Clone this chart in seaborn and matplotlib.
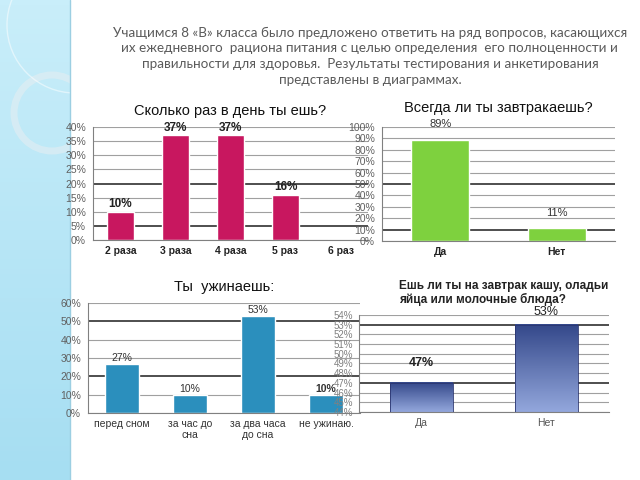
import numpy as np
import matplotlib
matplotlib.use("Agg")
import matplotlib.pyplot as plt
from matplotlib.patches import Circle
import seaborn as sns

sns.set_theme(style="white")
plt.rcParams["font.family"] = ["Liberation Sans", "DejaVu Sans"]

# data
meals_cats = ["2 раза", "3 раза", "4 раза", "5 раз", "6 раз"]
meals_vals = [10, 37, 37, 16, 0]
meals_labels = ["10%", "37%", "37%", "16%", ""]

breakfast_cats = ["Да", "Нет"]
breakfast_vals = [89, 11]

dinner_cats = ["перед сном", "за час до\nсна", "за два часа\nдо сна", "не ужинаю."]
dinner_vals = [27, 10, 53, 10]

porridge_cats = ["Да", "Нет"]
porridge_vals = [47, 53]

intro = ("Учащимся 8 «В» класса было предложено ответить на ряд вопросов, касающихся\n"
         "их ежедневного  рациона питания с целью определения  его полноценности и\n"
         "правильности для здоровья.  Результаты тестирования и анкетирования\n"
         "представлены в диаграммах.")

fig = plt.figure(figsize=(6.4, 4.8), dpi=100)
fig.patch.set_facecolor("white")

# background strip on the left
bg = fig.add_axes([0, 0, 1, 1], zorder=-10)
bg.set_xlim(0, 640)
bg.set_ylim(480, 0)
bg.axis("off")
grad = np.linspace(0, 1, 100).reshape(-1, 1)
strip_cmap = matplotlib.colors.LinearSegmentedColormap.from_list("s", ["#c9eefa", "#a6def2"])
bg.imshow(grad, cmap=strip_cmap, extent=(0, 70, 480, 0), aspect="auto")
bg.axvline(70, color="#9ccfe2", lw=1)
clip = bg.transData.transform_bbox(matplotlib.transforms.Bbox([[0, 0], [70, 480]]))
ring = Circle((52, 113), 38, fill=False, ec="#e4eef2", lw=5, alpha=0.6)
bg.add_patch(ring)
ring.set_clip_box(clip)
arc = Circle((75, 25), 68, fill=False, ec="white", lw=1, alpha=0.5)
bg.add_patch(arc)
arc.set_clip_box(clip)

fig.text(0.578, 0.945, intro, ha="center", va="top", fontsize=9.7, color="#5a5a5a",
         family=["Lato", "DejaVu Sans"], linespacing=1.38)


def style_axes(ax, ticks, dark=()):
    ax.set_yticks(ticks)
    ax.set_yticklabels([f"{t}%" for t in ticks])
    for t in ticks:
        ax.axhline(t, color="#404040" if t in dark else "#a0a0a0",
                   lw=1.3 if t in dark else 0.8, zorder=0)
    for s in ["top", "right"]:
        ax.spines[s].set_visible(False)
    ax.spines["left"].set_color("#808080")
    ax.spines["bottom"].set_color("#808080")
    ax.spines["left"].set_linewidth(0.8)
    ax.spines["bottom"].set_linewidth(0.8)
    ax.tick_params(axis="y", length=3, color="#808080", labelsize=7.5, labelcolor="#606060", pad=2)
    ax.tick_params(axis="x", length=0, pad=4)
    ax.set_xlabel("")
    ax.set_ylabel("")
    ax.set_facecolor("none")


# chart 1
ax1 = fig.add_axes([93 / 640, 1 - 240 / 480, 275 / 640, 113 / 480])
sns.barplot(x=meals_cats, y=meals_vals, color="#c8175f", width=0.49, saturation=1, ax=ax1, zorder=2)
ax1.set_ylim(0, 40)
style_axes(ax1, list(range(0, 45, 5)), dark=(5, 20))
ax1.tick_params(axis="x", labelsize=7.5, labelcolor="#222222")
for lab in ax1.get_xticklabels():
    lab.set_fontweight("bold")
for p, txt in zip(ax1.patches, meals_labels):
    ax1.text(p.get_x() + p.get_width() / 2, p.get_height() + 0.6, txt, ha="center", va="bottom",
             fontsize=8.5, fontweight="bold", color="#222222")
ax1.set_title("Сколько раз в день ты ешь?", fontsize=10.5, color="#111111", pad=9)

# chart 2
ax2 = fig.add_axes([382 / 640, 1 - 241 / 480, 233 / 640, 114 / 480])
sns.barplot(x=breakfast_cats, y=breakfast_vals, color="#7ed13e", width=0.5, saturation=1, ax=ax2, zorder=2)
ax2.set_ylim(0, 100)
style_axes(ax2, list(range(0, 110, 10)), dark=(10, 50))
ax2.tick_params(axis="x", labelsize=7.5, labelcolor="#222222")
for lab in ax2.get_xticklabels():
    lab.set_fontweight("bold")
for p, v in zip(ax2.patches, breakfast_vals):
    ax2.text(p.get_x() + p.get_width() / 2, p.get_height() + 9, f"{v}%", ha="center", va="bottom",
             fontsize=8, color="#333333", clip_on=False)
ax2.set_title("Всегда ли ты завтракаешь?", fontsize=10.5, color="#111111", pad=11)

# chart 3
ax3 = fig.add_axes([88 / 640, 1 - 413 / 480, 272 / 640, 110 / 480])
sns.barplot(x=dinner_cats, y=dinner_vals, color="#2b8fbd", width=0.49, saturation=1, ax=ax3, zorder=2)
ax3.set_ylim(0, 60)
style_axes(ax3, list(range(0, 70, 10)), dark=(20, 50))
ax3.tick_params(axis="x", labelsize=7.5, labelcolor="#333333")
for i, (p, v) in enumerate(zip(ax3.patches, dinner_vals)):
    ax3.text(p.get_x() + p.get_width() / 2, p.get_height() + 0.4, f"{v}%", ha="center", va="bottom",
             fontsize=7.5, color="#333333", fontweight="bold" if i == 3 else "normal")
ax3.set_title("Ты  ужинаешь:", fontsize=10.5, color="#111111", pad=9)

# chart 4
ax4 = fig.add_axes([359 / 640, 1 - 412 / 480, 250 / 640, 97 / 480], zorder=3)
sns.barplot(x=porridge_cats, y=porridge_vals, color="#5a6eb0", width=0.5, saturation=1, ax=ax4, zorder=2)
ax4.set_ylim(44, 54)
style_axes(ax4, list(range(44, 55)), dark=(47, 53))
ax4.tick_params(axis="y", labelsize=7, labelcolor="#808080", pad=1)
ax4.tick_params(axis="x", labelsize=7.5, labelcolor="#555555")
bar_cmap = matplotlib.colors.LinearSegmentedColormap.from_list("b", ["#34488a", "#93a7dc"])
for p in ax4.patches:
    x0, w, h = p.get_x(), p.get_width(), p.get_height()
    ax4.imshow(grad, cmap=bar_cmap, extent=(x0, x0 + w, 44, h), aspect="auto", zorder=2)
    p.set_facecolor("none")
    p.set_edgecolor("#2a3570")
    p.set_linewidth(0.6)
    p.set_zorder(3)
ax4.set_xlim(-0.5, 1.5)
ax4.set_ylim(44, 54)
weights = ["bold", "normal"]
offsets = [10, 5]
for p, v, wgt, off in zip(ax4.patches, porridge_vals, weights, offsets):
    ax4.annotate(f"{v}%", (p.get_x() + p.get_width() / 2, p.get_height()), xytext=(0, off),
                 textcoords="offset points", ha="center", va="bottom",
                 fontsize=9, color="#222222", fontweight=wgt)
ax4.set_title("Ешь ли ты на завтрак кашу, оладьи\nяйца или молочные блюда?", fontsize=8.5,
              color="#222222", fontweight="bold", loc="left", x=0.16, pad=9, linespacing=1.05)

fig.savefig("out.png", dpi=100)
